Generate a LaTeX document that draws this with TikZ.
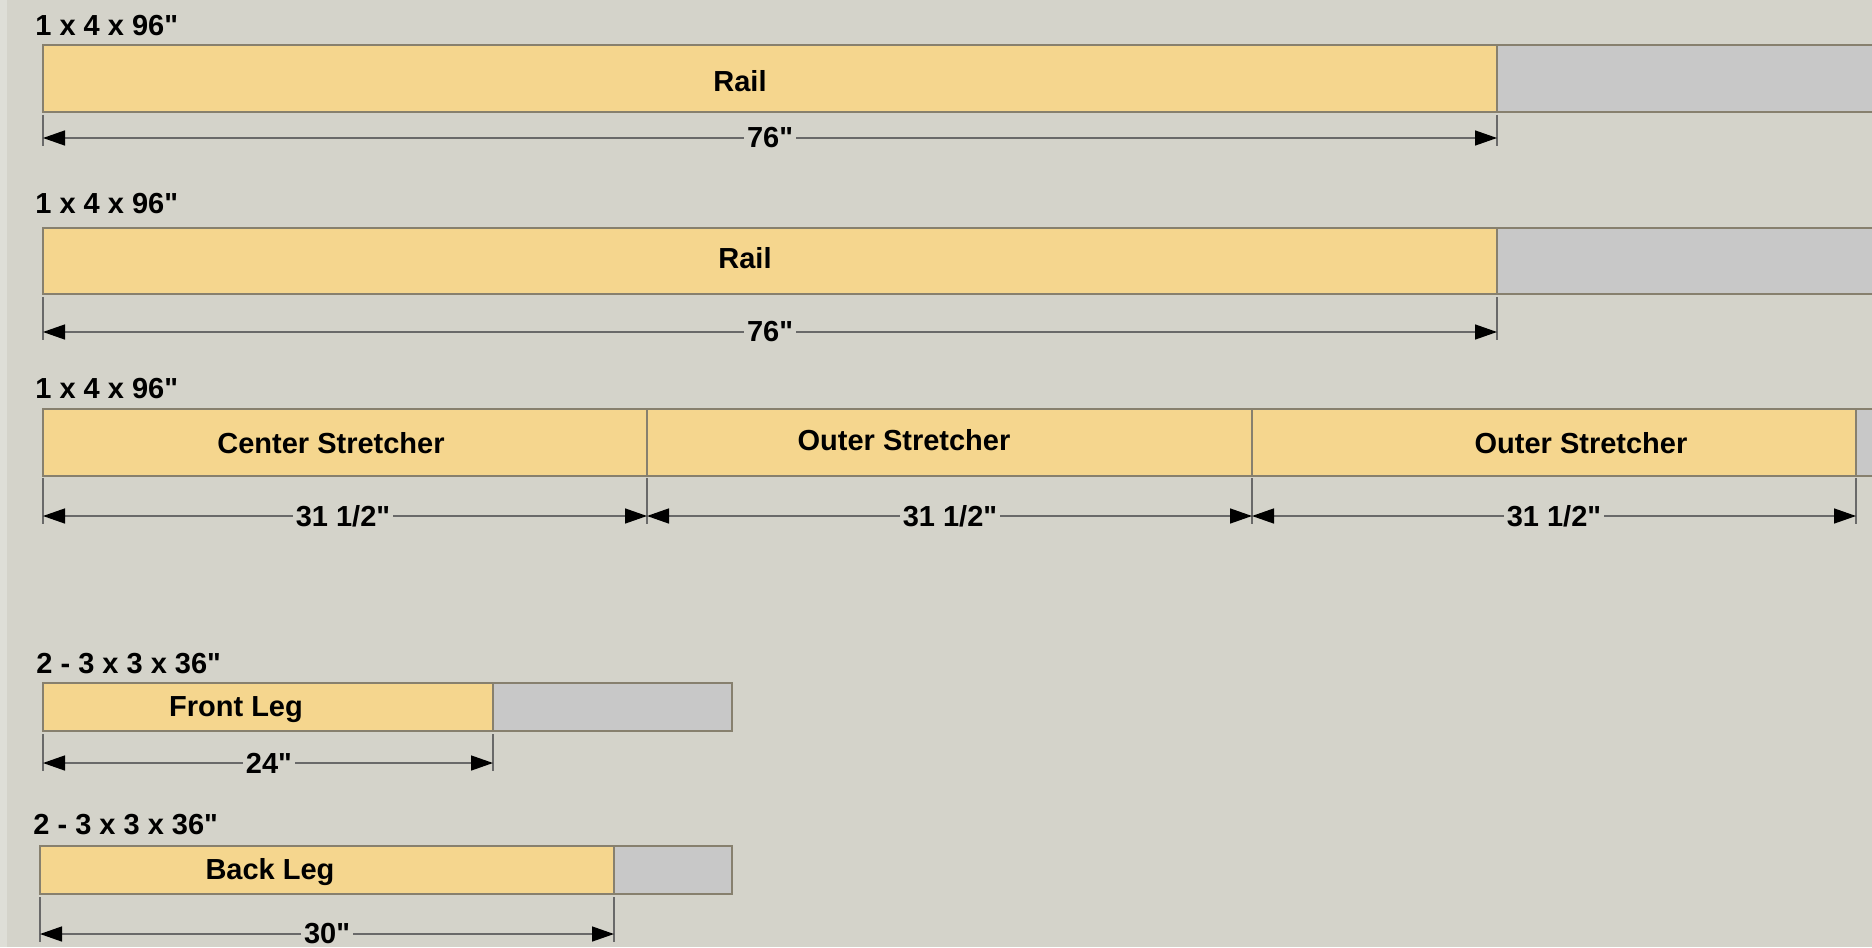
\documentclass[tikz,border=0pt]{standalone}
\usepackage{fontspec}
\setmainfont{Liberation Sans}
\usetikzlibrary{
    arrows.meta,
    calc
}
\definecolor{bg}{RGB}{212,211,202}
\definecolor{pine}{RGB}{245,214,142}
\definecolor{scrap}{RGB}{200,200,200}
\definecolor{edge}{RGB}{135,128,110}
\definecolor{dimgray}{RGB}{105,105,105}
\newcommand{\inch}{\textquotedbl}
\tikzset{
    every picture/.style = {
        > = {Triangle[length = 11pt, width = 7.5pt, color = black]},
        x = 0.5pt,
        y = -0.5pt
    },
    board/.style = {
        draw = edge,
        fill = pine,
        line width = 0.8pt
    },
    offcut/.style = {
        draw = edge,
        fill = scrap,
        line width = 0.8pt
    },
    stock/.style = {
        anchor = west,
        inner sep = 0pt
    },
    part/.style = {
        inner sep = 0pt
    },
    dimline/.style = {
        <->,
        draw = dimgray,
        line width = 0.7pt
    },
    dimtick/.style = {
        draw = dimgray,
        line width = 0.7pt
    },
    dimtext/.style = {
        fill = bg,
        inner sep = 1.5pt
    }
}

\begin{document}
\begin{tikzpicture}[node font = {\fontsize{14.5}{16}\selectfont\bfseries}]
    \useasboundingbox[fill = bg] (0,0) rectangle (1872,947);
    \clip (0,0) rectangle (1872,947);
    \fill[white, opacity = 0.25] (0,0) rectangle (7,947);

    % first rail
    \node[stock] (stock1) at (35,26) {1 x 4 x 96\inch};
    \draw[board] (43,45) rectangle (1497,112);
    \draw[offcut] (1497,45) rectangle (1880,112);
    \node[part] (rail1) at (740,81) {Rail};
    \coordinate (rail1a) at (43,138);
    \coordinate (rail1b) at (1497,138);
    \draw[dimtick] (rail1a) ++(0,-23) -- ++(0,31);
    \draw[dimtick] (rail1b) ++(0,-23) -- ++(0,31);
    \draw[dimline] (rail1a) -- (rail1b);
    \node[dimtext] (dim1) at (770,138) {76\inch};

    % second rail
    \node[stock] (stock2) at (35,204) {1 x 4 x 96\inch};
    \draw[board] (43,228) rectangle (1497,294);
    \draw[offcut] (1497,228) rectangle (1880,294);
    \node[part] (rail2) at (745,258) {Rail};
    \coordinate (rail2a) at (43,332);
    \coordinate (rail2b) at (1497,332);
    \draw[dimtick] (rail2a) ++(0,-35) -- ++(0,43);
    \draw[dimtick] (rail2b) ++(0,-35) -- ++(0,43);
    \draw[dimline] (rail2a) -- (rail2b);
    \node[dimtext] (dim2) at (770,332) {76\inch};

    % stretchers
    \node[stock] (stock3) at (35,389) {1 x 4 x 96\inch};
    \draw[board] (43,409) rectangle (647,476);
    \draw[board] (647,409) rectangle (1252,476);
    \draw[board] (1252,409) rectangle (1856,476);
    \draw[offcut] (1856,409) rectangle (1880,476);
    \node[part] (center) at (331,443) {Center Stretcher};
    \node[part] (outer1) at (904,440) {Outer Stretcher};
    \node[part] (outer2) at (1581,443) {Outer Stretcher};
    \foreach \name/\x in {s0/43, s1/647, s2/1252, s3/1856} {
        \coordinate (\name) at (\x,516);
        \draw[dimtick] (\name) ++(0,-38) -- ++(0,46);
    }
    \draw[dimline] (s0) -- (s1);
    \draw[dimline] (s1) -- (s2);
    \draw[dimline] (s2) -- (s3);
    \node[dimtext] (dim3) at (343,516) {31 1/2\inch};
    \node[dimtext] (dim4) at (950,516) {31 1/2\inch};
    \node[dimtext] (dim5) at (1554,516) {31 1/2\inch};

    % front leg
    \node[stock] (stock4) at (36,664) {2 - 3 x 3 x 36\inch};
    \draw[board] (43,683) rectangle (493,731);
    \draw[offcut] (493,683) rectangle (732,731);
    \node[part] (front) at (236,710) {Front Leg};
    \coordinate (front1) at (43,763);
    \coordinate (front2) at (493,763);
    \draw[dimtick] (front1) ++(0,-29) -- ++(0,37);
    \draw[dimtick] (front2) ++(0,-29) -- ++(0,37);
    \draw[dimline] (front1) -- (front2);
    \node[dimtext] (dim6) at (269,763) {24\inch};

    % back leg
    \node[stock] (stock5) at (33,825) {2 - 3 x 3 x 36\inch};
    \draw[board] (40,846) rectangle (614,894);
    \draw[offcut] (614,846) rectangle (732,894);
    \node[part] (back) at (270,872) {Back Leg};
    \coordinate (back1) at (40,934);
    \coordinate (back2) at (614,934);
    \draw[dimtick] (back1) ++(0,-37) -- ++(0,45);
    \draw[dimtick] (back2) ++(0,-37) -- ++(0,45);
    \draw[dimline] (back1) -- (back2);
    \node[dimtext] (dim7) at (327,934) {30\inch};
\end{tikzpicture}
\end{document}
